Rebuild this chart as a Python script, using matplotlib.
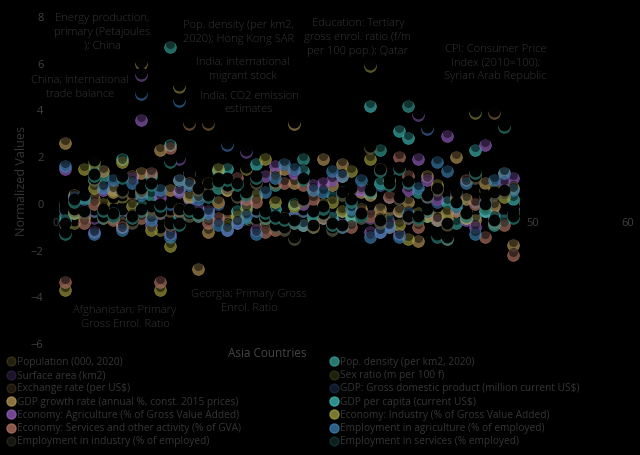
import numpy as np
import matplotlib
matplotlib.use("Agg")
import matplotlib.pyplot as plt
from matplotlib.lines import Line2D
from matplotlib.transforms import offset_copy

plt.rcParams['font.family'] = ['Open Sans', 'DejaVu Sans']

# country index along the x axis (48 Asian countries)
countries = np.arange(1, 49)

labels = [
    "Population (000, 2020)",
    "Pop. density (per km2, 2020)",
    "Surface area (km2)",
    "Sex ratio (m per 100 f)",
    "Exchange rate (per US$)",
    "GDP: Gross domestic product (million current US$)",
    "GDP growth rate (annual %, const. 2015 prices)",
    "GDP per capita (current US$)",
    "Economy: Agriculture (% of Gross Value Added)",
    "Economy: Industry (% of Gross Value Added)",
    "Economy: Services and other activity (% of GVA)",
    "Employment in agriculture (% of employed)",
    "Employment in industry (% of employed)",
    "Employment in services (% employed)",
]

population = [0.0, -0.4, -0.3, -0.4, 0.8, -0.4, -0.4, -0.2, 6.0, -0.4, -0.4, -0.4,
              5.0, 1.3, 0.2, -0.1, -0.3, 0.6, -0.3, -0.2, -0.4, -0.3, -0.3, -0.4,
              -0.1, -0.4, -0.4, 0.0, -0.2, -0.4, -0.4, 0.8, 0.5, -0.4, 0.0, -0.1,
              -0.4, -0.2, -0.1, -0.3, -0.2, 0.2, -0.4, 0.3, -0.3, -0.3, 0.0, 0.1]
pop_density = [-0.5, 0.1, 0.2, 1.6, 1.2, -0.6, -0.3, -0.2, 0.3, 0.4, -0.1, 6.7,
               0.6, 0.0, -0.4, -0.5, 0.7, -0.3, 0.9, -0.6, -0.4, -0.7, 0.8, -0.5,
               -0.2, 1.9, -0.8, -0.1, 0.3, -0.3, -0.7, -0.4, 0.4, 2.3, -0.6, -0.2,
               4.2, 0.5, -0.3, -0.4, 0.2, -0.8, 0.1, -0.5, 0.0, -0.9, 0.6, -0.3]
surface_area = [0.0, -0.5, -0.4, -0.6, -0.3, -0.5, -0.6, -0.4, 5.5, -0.6, -0.4, -0.6,
                1.9, 1.2, 0.9, 0.1, -0.4, -0.3, -0.5, 2.2, -0.6, -0.3, -0.4, -0.5,
                -0.2, -0.6, 0.8, 0.0, -0.3, -0.5, 0.0, -0.2, -0.6, -0.5, 1.4, -0.6,
                -0.6, 3.8, -0.4, -0.4, -0.2, 0.4, -0.6, 0.3, 0.2, -0.5, -0.1, 0.1]
sex_ratio = [-0.1, -0.8, -0.5, 1.8, -0.2, 0.2, 0.3, -0.6, 0.0, -0.3, -1.1, -0.8,
             -0.1, -0.2, -0.1, 0.0, -0.3, -0.4, -0.6, 1.5, -0.7, -0.5, -0.6, -0.3,
             3.4, -0.5, -0.6, -0.2, -0.4, 1.2, -0.1, -0.3, 5.9, -0.4, 0.9, 0.3,
             -0.2, -0.5, -0.3, -0.2, -0.4, -0.1, -0.6, 3.9, -0.3, -0.2, -0.1, 0.0]
exchange_rate = [-0.2, -0.1, -0.3, -0.3, -0.2, -0.3, -0.3, 0.4, -0.3, -0.3, -0.3, -0.3,
                 -0.2, 3.4, -0.1, 3.4, -0.3, -0.3, -0.3, 0.1, -0.3, -0.3, 0.9, -0.3,
                 3.4, -0.3, -0.3, -0.2, -0.1, -0.3, -0.2, -0.2, -0.3, 0.0, -0.2, -0.3,
                 -0.3, -0.3, -0.1, -0.2, 0.2, -0.3, -0.3, -0.3, 0.6, 3.9, -0.3, -0.2]
gdp = [-0.3, -0.3, -0.3, -0.3, -0.1, -0.3, -0.3, -0.3, 4.7, -0.3, -0.3, 0.0,
       4.4, 0.3, 0.1, -0.2, 0.0, 2.5, -0.3, -0.2, -0.3, -0.2, -0.3, -0.3,
       -0.2, -0.3, -0.3, -0.3, -0.2, -0.3, -0.2, 0.0, -0.1, 0.8, 0.3, -0.3,
       -0.1, -0.3, 3.2, 0.1, -0.3, 0.5, -0.3, 0.1, -0.3, -0.1, -0.3, -0.2]
gdp_growth = [2.6, 0.4, -0.6, 0.2, 1.4, 0.5, -0.8, 1.2, 1.3, -0.4, 2.3, 0.6,
              1.0, 0.9, -2.8, -1.2, 0.1, 0.6, -0.5, 0.2, 0.3, -1.0, 1.3, 1.5,
              0.9, -0.9, 0.6, 1.9, 0.8, 1.7, -0.5, 0.5, 0.4, -0.2, -1.0, -0.3,
              0.1, -1.6, 1.2, 0.7, -0.6, 2.0, 0.2, -0.7, 0.9, -0.1, 1.3, -1.75]
gdp_per_capita = [-0.7, -0.4, -0.3, 1.0, -0.6, -0.4, 1.9, -0.6, -0.1, 1.2, -0.3, 2.5,
                  -0.6, -0.4, -0.3, -0.5, 1.4, 1.5, -0.3, -0.1, 1.7, -0.6, -0.2, -0.6,
                  0.0, 1.4, -0.5, -0.6, -0.6, 0.5, -0.5, -0.4, 4.2, 0.9, 1.0, 3.1,
                  2.8, -0.5, -0.5, -0.7, 0.1, -0.2, -0.6, 2.3, -0.3, -0.6, -0.7, 0.2]
agriculture = [1.5, 0.2, -0.4, -1.2, 0.6, 0.7, -1.0, 1.1, 3.6, -0.9, 0.3, -1.3,
               0.5, 0.2, -0.2, -0.3, -0.7, -1.1, -0.8, 0.1, -1.1, 1.2, 1.6, -0.6,
               1.3, 0.0, 0.8, 0.9, 1.0, -1.0, 0.4, 0.6, -1.2, -1.2, -0.9, -1.3,
               0.6, 1.9, 1.0, 0.2, 2.9, 0.3, -0.7, -1.0, 2.5, 0.5, 0.9, 1.1]
industry = [-3.7, -0.4, 1.5, 0.7, 0.0, 0.6, 1.8, -0.1, 0.5, -1.1, -3.7, -1.8,
            -0.2, 0.3, 0.4, 0.9, 1.5, -0.9, -0.5, -0.2, 0.4, 1.9, 0.1, -0.6,
            -0.1, -0.9, -1.0, 0.0, 0.1, -0.3, 1.4, -0.2, 1.9, -0.7, 1.0, -0.9,
            -1.5, -0.4, -0.5, 0.8, -0.4, 0.2, -0.6, 1.2, 0.0, 0.6, 0.3, 0.7]
services = [-3.35, 0.3, -0.8, 0.0, -0.2, -0.7, -1.0, -0.5, -0.6, 1.3, -3.35, 2.4,
            -0.3, -0.4, -0.5, -0.8, -0.6, 1.0, 1.1, 0.2, 0.1, -1.2, -1.1, 0.9,
            -0.8, 0.8, 0.2, -0.6, -0.9, 1.2, -1.0, -0.3, -0.5, 1.5, 0.3, 2.0,
            1.2, -1.0, -0.4, -0.7, -1.5, -0.3, 1.0, 0.0, -1.4, -0.8, -0.9, -2.2]
emp_agriculture = [1.6, 0.3, 0.2, -1.3, 0.7, 1.0, -1.1, 0.9, 0.4, -0.7, 0.6, -1.4,
                   1.0, 0.8, 0.2, -0.4, -0.9, -1.1, -0.8, -0.5, -1.3, 0.5, 1.1, 1.7,
                   1.5, -0.9, 0.6, 0.5, 1.4, 1.2, -0.2, 1.0, -1.4, -1.2, -1.0, -1.4,
                   -0.4, 0.7, 0.3, 1.8, 1.4, -0.1, 0.9, -1.3, 0.1, 1.0, 1.3, 0.6]
emp_industry = [-0.9, -0.3, -0.4, 1.0, -0.6, -0.6, 0.5, -0.8, 0.6, -0.2, -0.4, -0.9,
                -0.3, -0.5, 0.6, 0.8, 1.0, 0.7, 0.3, 0.5, 0.9, -0.6, -1.0, -1.1,
                -1.5, 0.1, -1.0, -0.5, -1.1, 0.4, 0.6, -0.6, 2.4, -0.8, 1.0, 0.2,
                -0.6, -0.7, 0.3, 0.6, -0.9, 0.4, -0.5, 1.1, 0.3, 0.4, 0.5, -0.4]
emp_services = [-1.3, 0.1, 0.3, 1.2, -0.3, -0.5, 1.1, -0.6, -0.3, 0.8, -0.1, 1.8,
                -0.9, -0.3, -0.5, 0.3, 0.9, 1.0, 0.8, 0.4, 1.1, -0.4, -0.6, -0.7,
                -0.8, 1.0, -0.4, -0.2, -0.9, -1.0, 0.1, -0.5, 0.5, 1.4, 0.8, 1.5,
                0.9, -0.6, -0.3, -1.4, -1.5, 0.0, -0.5, 1.3, -0.1, -0.8, 3.3, -0.6]

series = [population, pop_density, surface_area, sex_ratio, exchange_rate, gdp,
          gdp_growth, gdp_per_capita, agriculture, industry, services,
          emp_agriculture, emp_industry, emp_services]

colors = ['#8c8040', '#37a096', '#6e4c98', '#7c7c38', '#7c603c', '#3a68a0',
          '#b89858', '#40bcb8', '#9460c0', '#a2a040', '#b47464', '#3c80b0',
          '#5e5e48', '#2c8278']
# dim series: shadow covers the whole ball except a thin lower rim
dim = [True, False, True, True, True, True, False, False, False, False,
       False, False, True, True]

# annotated outliers
notes = [
    ("Energy production,\nprimary (Petajoules\n); China", 4.9, 7.35),
    ("China; international\ntrade balance", 2.6, 5.0),
    ("Pop. density (per km2,\n2020); Hong Kong SAR", 19.2, 7.34),
    ("India; international\nmigrant stock", 19.6, 5.76),
    ("India; CO2 emission\nestimates", 20.3, 4.32),
    ("Education: Tertiary\ngross enrol. ratio (f/m\nper 100 pop.); Qatar", 31.7, 7.13),
    ("CPI: Consumer Price\nIndex (2010=100);\nSyrian Arab Republic", 46.1, 6.04),
    ("Afghanistan; Primary\nGross Enrol. Ratio", 7.3, -4.88),
    ("Georgia; Primary Gross\nEnrol. Ratio", 20.3, -4.2),
]

text_col = '#353535'

fig = plt.figure(figsize=(6.4, 4.55), dpi=100, facecolor='black')
ax = fig.add_axes([0.079, 0.239, 0.917, 0.744])
ax.set_facecolor('black')
ax.set_axisbelow(True)

shade_dim = offset_copy(ax.transData, fig=fig, x=0, y=2.2, units='dots')
shade_lit = offset_copy(ax.transData, fig=fig, x=0, y=3.0, units='dots')
for i, vals in enumerate(series):
    z = 2 + i * 0.01
    ax.scatter(countries, vals, s=72, color=colors[i], edgecolors=colors[i],
               linewidths=0.5, alpha=0.65, zorder=z)
    if dim[i]:
        ax.scatter(countries, vals, s=72, color='black', alpha=0.96,
                   linewidths=0, transform=shade_dim, zorder=z + 0.005)
    else:
        ax.scatter(countries, vals, s=42, color='black', alpha=0.5,
                   linewidths=0, transform=shade_lit, zorder=z + 0.005)

for txt, x, y in notes:
    ax.text(x, y, txt, ha='center', va='center', fontsize=8, color=text_col,
            linespacing=1.35, fontweight='light', zorder=1)

ax.set_xlim(-0.5, 61)
ax.set_ylim(-6.1, 8.4)
ax.set_xticks(np.arange(0, 61, 10))
ax.set_yticks(np.arange(-6, 9, 2))
for s in ax.spines.values():
    s.set_visible(False)
ax.spines['bottom'].set_position(('data', 0))
ax.tick_params(axis='both', length=0, labelsize=8, labelcolor='#404040')
ax.tick_params(axis='x', pad=10)
ax.tick_params(axis='y', pad=5)

ax.set_xlabel("Asia Countries", fontsize=8.5, color='#454545', va='center')
ax.xaxis.set_label_coords(0.37, -0.02)
ax.set_ylabel("Normalized Values", fontsize=9, color='#353535', va='center')
ax.yaxis.set_label_coords(-0.049, 0.488)

handles = []
for i in range(len(series)):
    a = 0.25 if dim[i] else 0.75
    handles.append(Line2D([], [], linestyle='none', marker='o', markersize=6.5,
                          markerfacecolor=colors[i], markeredgecolor=colors[i],
                          alpha=a))

for col, xpos in ((0, 0.011), (1, 0.516)):
    idx = list(range(col, len(series), 2))
    leg = fig.legend([handles[j] for j in idx], [labels[j] for j in idx],
                     loc='upper left', bbox_to_anchor=(xpos, 0.2154),
                     frameon=False, fontsize=7.3, borderpad=0, borderaxespad=0,
                     handlelength=0.8, handletextpad=0.2, labelspacing=0.22)
    for t in leg.get_texts():
        t.set_color('#353535')

fig.savefig('out.png', dpi=100, facecolor='black')
